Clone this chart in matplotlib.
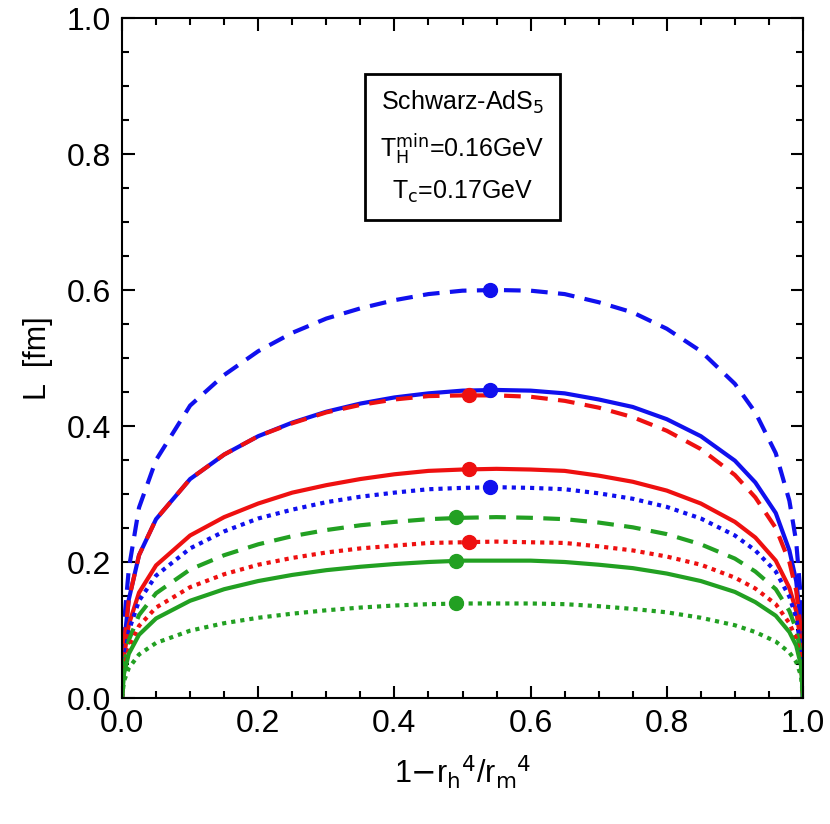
import matplotlib
matplotlib.use("Agg")
import matplotlib.pyplot as plt
from matplotlib.ticker import MultipleLocator

x = [0,0.003,0.01,0.025,0.05,0.1,0.15,0.2,0.25,0.3,0.35,0.4,0.45,0.5,0.55,0.6,0.65,0.7,0.75,0.8,0.85,0.9,0.93,0.96,0.98,0.99,0.997,1]
blue_dashed = [0,0.11,0.19,0.28,0.35,0.43,0.475,0.51,0.537,0.558,0.573,0.585,0.594,0.599,0.600,0.599,0.594,0.582,0.567,0.543,0.51,0.462,0.42,0.36,0.29,0.23,0.145,0]
blue_solid = [0,0.08,0.145,0.21,0.263,0.322,0.358,0.385,0.405,0.421,0.433,0.442,0.448,0.452,0.453,0.452,0.448,0.439,0.428,0.41,0.385,0.349,0.317,0.272,0.217,0.172,0.109,0]
red_dashed = [0,0.08,0.145,0.21,0.263,0.322,0.358,0.385,0.404,0.42,0.431,0.439,0.444,0.445,0.445,0.443,0.437,0.427,0.413,0.393,0.366,0.328,0.295,0.25,0.2,0.158,0.1,0]
red_solid = [0,0.061,0.108,0.155,0.195,0.239,0.266,0.286,0.302,0.313,0.322,0.329,0.334,0.336,0.337,0.336,0.334,0.327,0.318,0.305,0.286,0.259,0.236,0.202,0.162,0.128,0.081,0]
blue_dotted = [0,0.056,0.099,0.143,0.18,0.22,0.245,0.264,0.277,0.288,0.296,0.302,0.307,0.309,0.31,0.309,0.307,0.301,0.293,0.281,0.264,0.239,0.217,0.186,0.149,0.118,0.074,0]
green_dashed = [0,0.048,0.085,0.122,0.154,0.189,0.21,0.226,0.238,0.247,0.254,0.259,0.263,0.265,0.266,0.265,0.263,0.258,0.251,0.241,0.226,0.205,0.186,0.16,0.128,0.101,0.064,0]
red_dotted = [0,0.041,0.074,0.106,0.133,0.163,0.182,0.196,0.206,0.214,0.22,0.224,0.228,0.229,0.23,0.229,0.228,0.223,0.217,0.208,0.196,0.177,0.161,0.138,0.11,0.087,0.055,0]
green_solid = [0,0.036,0.065,0.093,0.117,0.143,0.16,0.172,0.181,0.188,0.193,0.197,0.2,0.202,0.202,0.202,0.2,0.196,0.191,0.183,0.172,0.156,0.141,0.121,0.097,0.077,0.048,0]
green_dotted = [0,0.025,0.044,0.064,0.081,0.099,0.11,0.118,0.124,0.129,0.133,0.136,0.138,0.139,0.139,0.139,0.138,0.135,0.131,0.126,0.118,0.107,0.097,0.083,0.067,0.053,0.033,0]

mark_x_blue, mark_y_blue = [0.54, 0.54, 0.54], [0.60, 0.453, 0.31]
mark_x_red, mark_y_red = [0.51, 0.51, 0.51], [0.445, 0.337, 0.23]
mark_x_green, mark_y_green = [0.49, 0.49, 0.49], [0.266, 0.202, 0.139]

B, R, G = "#1010ee", "#ee1010", "#22a022"
plt.rcParams["font.family"] = "Liberation Sans"
fig = plt.figure(figsize=(8.3, 8.24), dpi=100)
ax = fig.add_axes([122/830, 126/824, 681/830, 680/824])

lw = 3
ax.plot(x, blue_dashed, color=B, lw=lw, ls=(0, (4, 2.5)))
ax.plot(x, blue_solid, color=B, lw=lw)
ax.plot(x, red_dashed, color=R, lw=lw, ls=(0, (4, 2.5)))
ax.plot(x, red_solid, color=R, lw=lw)
ax.plot(x, blue_dotted, color=B, lw=lw, ls=(0, (1, 1.2)))
ax.plot(x, green_dashed, color=G, lw=lw, ls=(0, (4, 2.5)))
ax.plot(x, red_dotted, color=R, lw=lw, ls=(0, (1, 1.2)))
ax.plot(x, green_solid, color=G, lw=lw)
ax.plot(x, green_dotted, color=G, lw=lw, ls=(0, (1, 1.2)))
ax.plot(mark_x_blue, mark_y_blue, "o", color=B, ms=10, ls="none")
ax.plot(mark_x_red, mark_y_red, "o", color=R, ms=10, ls="none")
ax.plot(mark_x_green, mark_y_green, "o", color=G, ms=10, ls="none")

ax.set_xlim(0, 1); ax.set_ylim(0, 1)
ax.xaxis.set_major_locator(MultipleLocator(0.2)); ax.yaxis.set_major_locator(MultipleLocator(0.2))
ax.xaxis.set_minor_locator(MultipleLocator(0.05)); ax.yaxis.set_minor_locator(MultipleLocator(0.05))
ax.tick_params(which="both", direction="in", top=True, right=True, width=1.5, labelsize=23, pad=8)
ax.tick_params(which="major", length=9)
ax.tick_params(which="minor", length=5)
for s in ax.spines.values():
    s.set_linewidth(1.5)
ax.set_xlabel(r"1$-$r$_\mathrm{h}$$^4$/r$_\mathrm{m}$$^4$", fontsize=22, labelpad=10)
ax.set_ylabel("L  [fm]", fontsize=22, labelpad=10)
ax.text(0.5, 0.81, "Schwarz-AdS$_5$\n" + r"T$_\mathrm{H}^\mathrm{min}$=0.16GeV" + "\n" + r"T$_\mathrm{c}$=0.17GeV",
        transform=ax.transAxes, ha="center", va="center", fontsize=18, linespacing=1.6,
        bbox=dict(boxstyle="square,pad=0.6", fc="white", ec="black", lw=2))
fig.savefig("out.png", dpi=100)
